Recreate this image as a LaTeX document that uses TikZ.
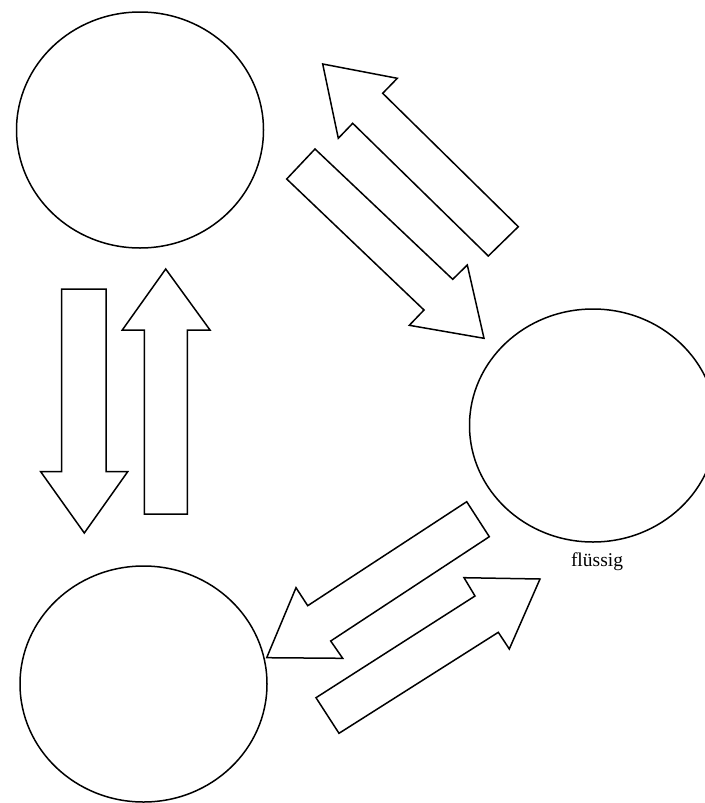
\documentclass[tikz,border=0pt]{standalone}
\usepackage{fontspec}
\setmainfont{Liberation Serif}
\usetikzlibrary{shapes.geometric}
\begin{document}
\begin{tikzpicture}[x=1pt,y=-1pt,
  phase/.style={ellipse,draw,line width=1.5pt,inner sep=0pt,
    minimum width=247pt,minimum height=236pt},
  blockarrow/.style={draw,line width=1.5pt,line join=miter,fill=white},
  caption/.style={font=\fontsize{19.5}{22}\selectfont,anchor=base,inner sep=0pt}]
\useasboundingbox (0,0) rectangle (704,803);
\fill[white] (0,0) rectangle (704,803);

% the three phases
\node[phase] (top)   at (140,130) {};
\node[phase,minimum height=233pt] (right) at (593,425.5) {};
\node[phase] (bottom) at (143.5,684) {};
\node[caption] (lbl) at (597,566) {flüssig};

% top <-> bottom
\draw[blockarrow] (61.7,289) -- (106,289) -- (106,471.7) -- (127.7,471.7)
  -- (84.3,533) -- (40.7,471.7) -- (61.7,471.7) -- cycle;
\draw[blockarrow] (165.7,269) -- (210,330) -- (187.3,330) -- (187.3,514)
  -- (144.3,514) -- (144.3,330) -- (122.3,330) -- cycle;

% top <-> right
\draw[blockarrow] (322.7,64) -- (397.3,78.3) -- (382.7,93.3) -- (518.3,226.7)
  -- (488.3,256) -- (352.7,123.3) -- (338.3,138.3) -- cycle;
\draw[blockarrow] (315,149) -- (452.7,279.3) -- (467.3,265) -- (484,338.3)
  -- (409.3,325.3) -- (424,310) -- (286.7,179) -- cycle;

% right <-> bottom
\draw[blockarrow] (466.7,501.7) -- (489.3,536.7) -- (330.7,641) -- (342.7,658.3)
  -- (266.7,657.7) -- (296,587.7) -- (307.7,605.7) -- cycle;
\draw[blockarrow] (316,697.7) -- (475,596) -- (464,577.7) -- (540,579)
  -- (509.3,649) -- (498.3,632.3) -- (339,733.3) -- cycle;
\end{tikzpicture}
\end{document}
